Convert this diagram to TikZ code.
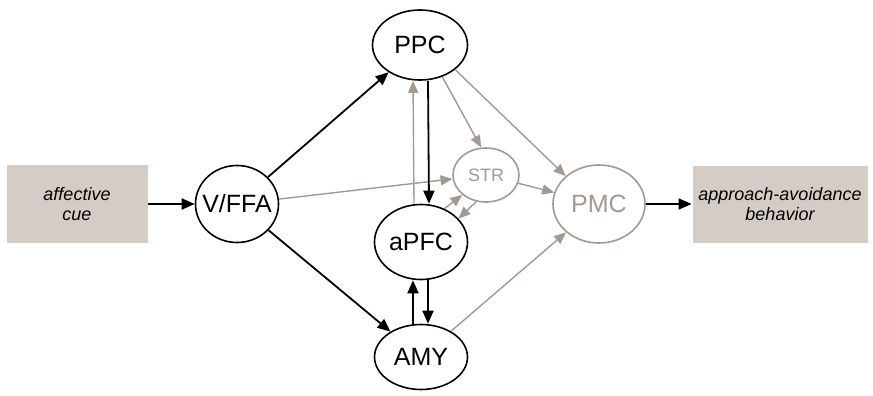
\documentclass[tikz,border=0pt]{standalone}
\usepackage{fontspec}
\setmainfont{Liberation Sans}
\usetikzlibrary{arrows.meta,shapes.geometric}
\definecolor{cuefill}{RGB}{214,204,198}
\definecolor{faded}{RGB}{163,152,146}

\begin{document}
\begin{tikzpicture}[x=0.5pt,y=-0.5pt,->,>={Triangle[length=6.5pt,width=5.5pt]},line width=0.9pt,
  region/.style={ellipse,draw,line width=0.8pt,inner sep=-10pt,font=\fontsize{12.5}{14}\selectfont},
  weak/.style={region,draw=faded,text=faded},
  io/.style={rectangle,fill=cuefill,inner sep=0pt,align=center,font=\fontsize{9}{10}\selectfont\itshape},
  dim/.style={draw=faded,line width=0.7pt,>={Triangle[length=6pt,width=5pt]}}]

\useasboundingbox (0,0) rectangle (873,396);

\node[io,minimum width=70.5pt,minimum height=39pt] (cue) at (77,204) {affective\\cue};
\node[region,minimum width=41.5pt,minimum height=38.5pt] (vffa) at (237,204) {V/FFA};
\node[region,minimum width=47.5pt,minimum height=35pt] (ppc) at (420,45) {PPC};
\node[region,minimum width=46.5pt,minimum height=37.5pt] (apfc) at (421,242) {aPFC};
\node[region,minimum width=46.5pt,minimum height=32.5pt] (amy) at (421,357) {AMY};
\node[weak,minimum width=33pt,minimum height=27pt,font=\fontsize{9}{10}\selectfont] (str) at (486,175) {STR};
\node[weak,minimum width=46pt,minimum height=39pt] (pmc) at (599,204) {PMC};
\node[io,minimum width=87.5pt,minimum height=38.5pt] (beh) at (780,204) {approach-avoidance\\behavior};

\path
(cue) edge (vffa)
(vffa) edge (ppc)
	edge (amy)
	edge [dim] (str)
([xshift=4pt]ppc.south) edge ([xshift=4pt]apfc.north)
([xshift=-3.5pt]apfc.north) edge [dim] ([xshift=-3.5pt]ppc.south)
([xshift=-4pt]amy.north) edge ([xshift=-4pt]apfc.south)
([xshift=3.5pt]apfc.south) edge ([xshift=3.5pt]amy.north)
(ppc.-55) edge [dim] (str.100)
(ppc.-35) edge [dim] (pmc.140)
(apfc.55) edge [dim] (str.-140)
(str.-110) edge [dim] (apfc.32)
(str) edge [dim] (pmc)
(amy) edge [dim] (pmc)
(pmc) edge (beh)
;
\end{tikzpicture}
\end{document}
